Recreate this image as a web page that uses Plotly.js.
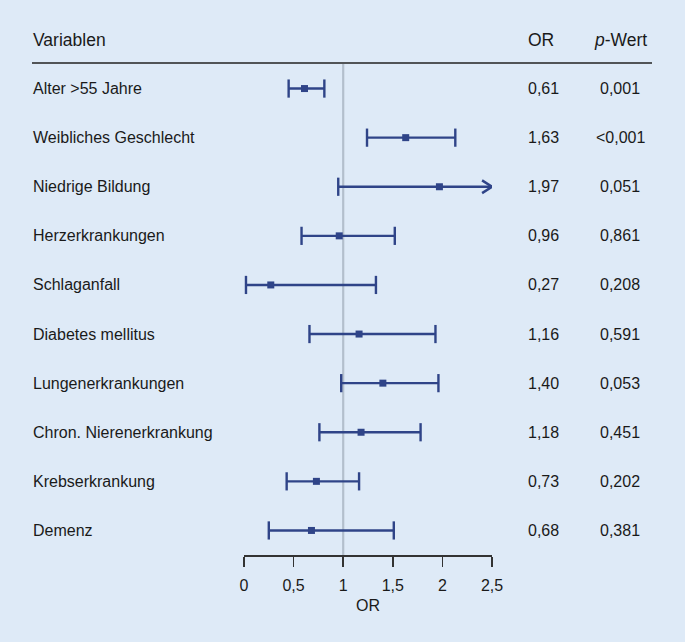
<!DOCTYPE html>
<html>
<head>
<meta charset="utf-8">
<script src="https://cdn.plot.ly/plotly-3.0.1.min.js"></script>
<style>html,body{margin:0;padding:0;background:#deeaf7;}</style>
</head>
<body>
<div id="chart" style="width:685px;height:642px;"></div>
<script>
// ---- data ----
const variables = ["Alter >55 Jahre","Weibliches Geschlecht","Niedrige Bildung","Herzerkrankungen","Schlaganfall","Diabetes mellitus","Lungenerkrankungen","Chron. Nierenerkrankung","Krebserkrankung","Demenz"];
const orValues = [0.61, 1.63, 1.97, 0.96, 0.27, 1.16, 1.40, 1.18, 0.73, 0.68];
const ciLower  = [0.45, 1.24, 0.95, 0.58, 0.02, 0.66, 0.98, 0.76, 0.43, 0.25];
const ciUpper  = [0.81, 2.13, null, 1.52, 1.33, 1.93, 1.96, 1.78, 1.16, 1.51]; // null = beyond axis (arrow)
const pValues  = ["0,001","<0,001","0,051","0,861","0,208","0,591","0,053","0,451","0,202","0,381"];
const tickVals = [0, 0.5, 1, 1.5, 2, 2.5];
const tickText = ["0","0,5","1","1,5","2","2,5"];

// ---- layout geometry (pixels) ----
const Wd = 685, Ht = 642;
const L = 244, R = 492, T = 64, B = 555;
const PW = R - L, PH = B - T;
const px = v => (v - L) / PW;
const py = v => (B - v) / PH;

const navy = "#2f4488";
const xMax = tickVals[tickVals.length - 1];
const rows = variables.map((_, i) => i);
const fmt = v => v.toFixed(2).replace(".", ",");

// CI lines
const lx = [], ly = [];
rows.forEach(i => {
  lx.push(ciLower[i], ciUpper[i] === null ? xMax : ciUpper[i], null);
  ly.push(i, i, null);
});
// caps
const cx = [], cy = [];
rows.forEach(i => {
  cx.push(ciLower[i]); cy.push(i);
  if (ciUpper[i] !== null) { cx.push(ciUpper[i]); cy.push(i); }
});
// arrow heads
const ax = [], ay = [];
rows.forEach(i => {
  if (ciUpper[i] === null) {
    ax.push(xMax - 0.1, xMax, xMax - 0.1, null);
    ay.push(i - 0.13, i, i + 0.13, null);
  }
});

const traces = [
  {x: lx, y: ly, mode: "lines", line: {color: navy, width: 2.4}, hoverinfo: "skip", cliponaxis: false},
  {x: cx, y: cy, mode: "markers", marker: {symbol: "line-ns", size: 13, line: {color: navy, width: 2.4}}, hoverinfo: "skip", cliponaxis: false},
  {x: ax, y: ay, mode: "lines", line: {color: navy, width: 2.4}, hoverinfo: "skip", cliponaxis: false},
  {x: orValues, y: rows, mode: "markers", marker: {symbol: "square", size: 7, color: navy}, cliponaxis: false}
];

const font = {family: "Liberation Sans, Arial, sans-serif", color: "#1a1a1a"};
const annotations = [];
rows.forEach(i => {
  annotations.push({xref: "paper", yref: "y", x: px(31), y: i, xanchor: "left", yanchor: "middle", text: variables[i], showarrow: false, font: {...font, size: 16}});
  annotations.push({xref: "paper", yref: "y", x: px(543), y: i, xanchor: "center", yanchor: "middle", text: fmt(orValues[i]), showarrow: false, font: {...font, size: 16}});
  annotations.push({xref: "paper", yref: "y", x: px(620), y: i, xanchor: "center", yanchor: "middle", text: pValues[i], showarrow: false, font: {...font, size: 16}});
});
annotations.push({xref: "paper", yref: "paper", x: px(31), y: py(40), xanchor: "left", yanchor: "middle", text: "Variablen", showarrow: false, font: {...font, size: 17.5}});
annotations.push({xref: "paper", yref: "paper", x: px(541), y: py(40), xanchor: "center", yanchor: "middle", text: "OR", showarrow: false, font: {...font, size: 17.5}});
annotations.push({xref: "paper", yref: "paper", x: px(620), y: py(40), xanchor: "center", yanchor: "middle", text: "<i>p</i>-Wert", showarrow: false, font: {...font, size: 17.5}});
annotations.push({xref: "paper", yref: "paper", x: px(368), y: py(605), xanchor: "center", yanchor: "middle", text: "OR", showarrow: false, font: {...font, size: 16}});

const layout = {
  width: Wd, height: Ht,
  margin: {l: L, r: Wd - R, t: T, b: Ht - B, pad: 0},
  paper_bgcolor: "#deeaf7", plot_bgcolor: "#deeaf7",
  showlegend: false,
  font: font,
  xaxis: {range: [0, xMax], tickvals: tickVals, ticktext: tickText, showgrid: false, zeroline: false,
          showline: true, linecolor: "#333", linewidth: 1.5, ticks: "outside", ticklen: 10, tickwidth: 1.5, tickcolor: "#333",
          tickfont: {...font, size: 16}, ticklabelstandoff: 5, fixedrange: true},
  yaxis: {range: [9.5, -0.5], visible: false, fixedrange: true},
  shapes: [
    {type: "line", xref: "x", yref: "paper", x0: 1, x1: 1, y0: 0, y1: 1, layer: "below", line: {color: "#b3bfcc", width: 2.2}},
    {type: "line", xref: "paper", yref: "paper", x0: px(32), x1: px(652), y0: py(63), y1: py(63), line: {color: "#222", width: 1.3}}
  ],
  annotations: annotations
};

Plotly.newPlot("chart", traces, layout, {displayModeBar: false, staticPlot: true});
</script>
</body>
</html>
